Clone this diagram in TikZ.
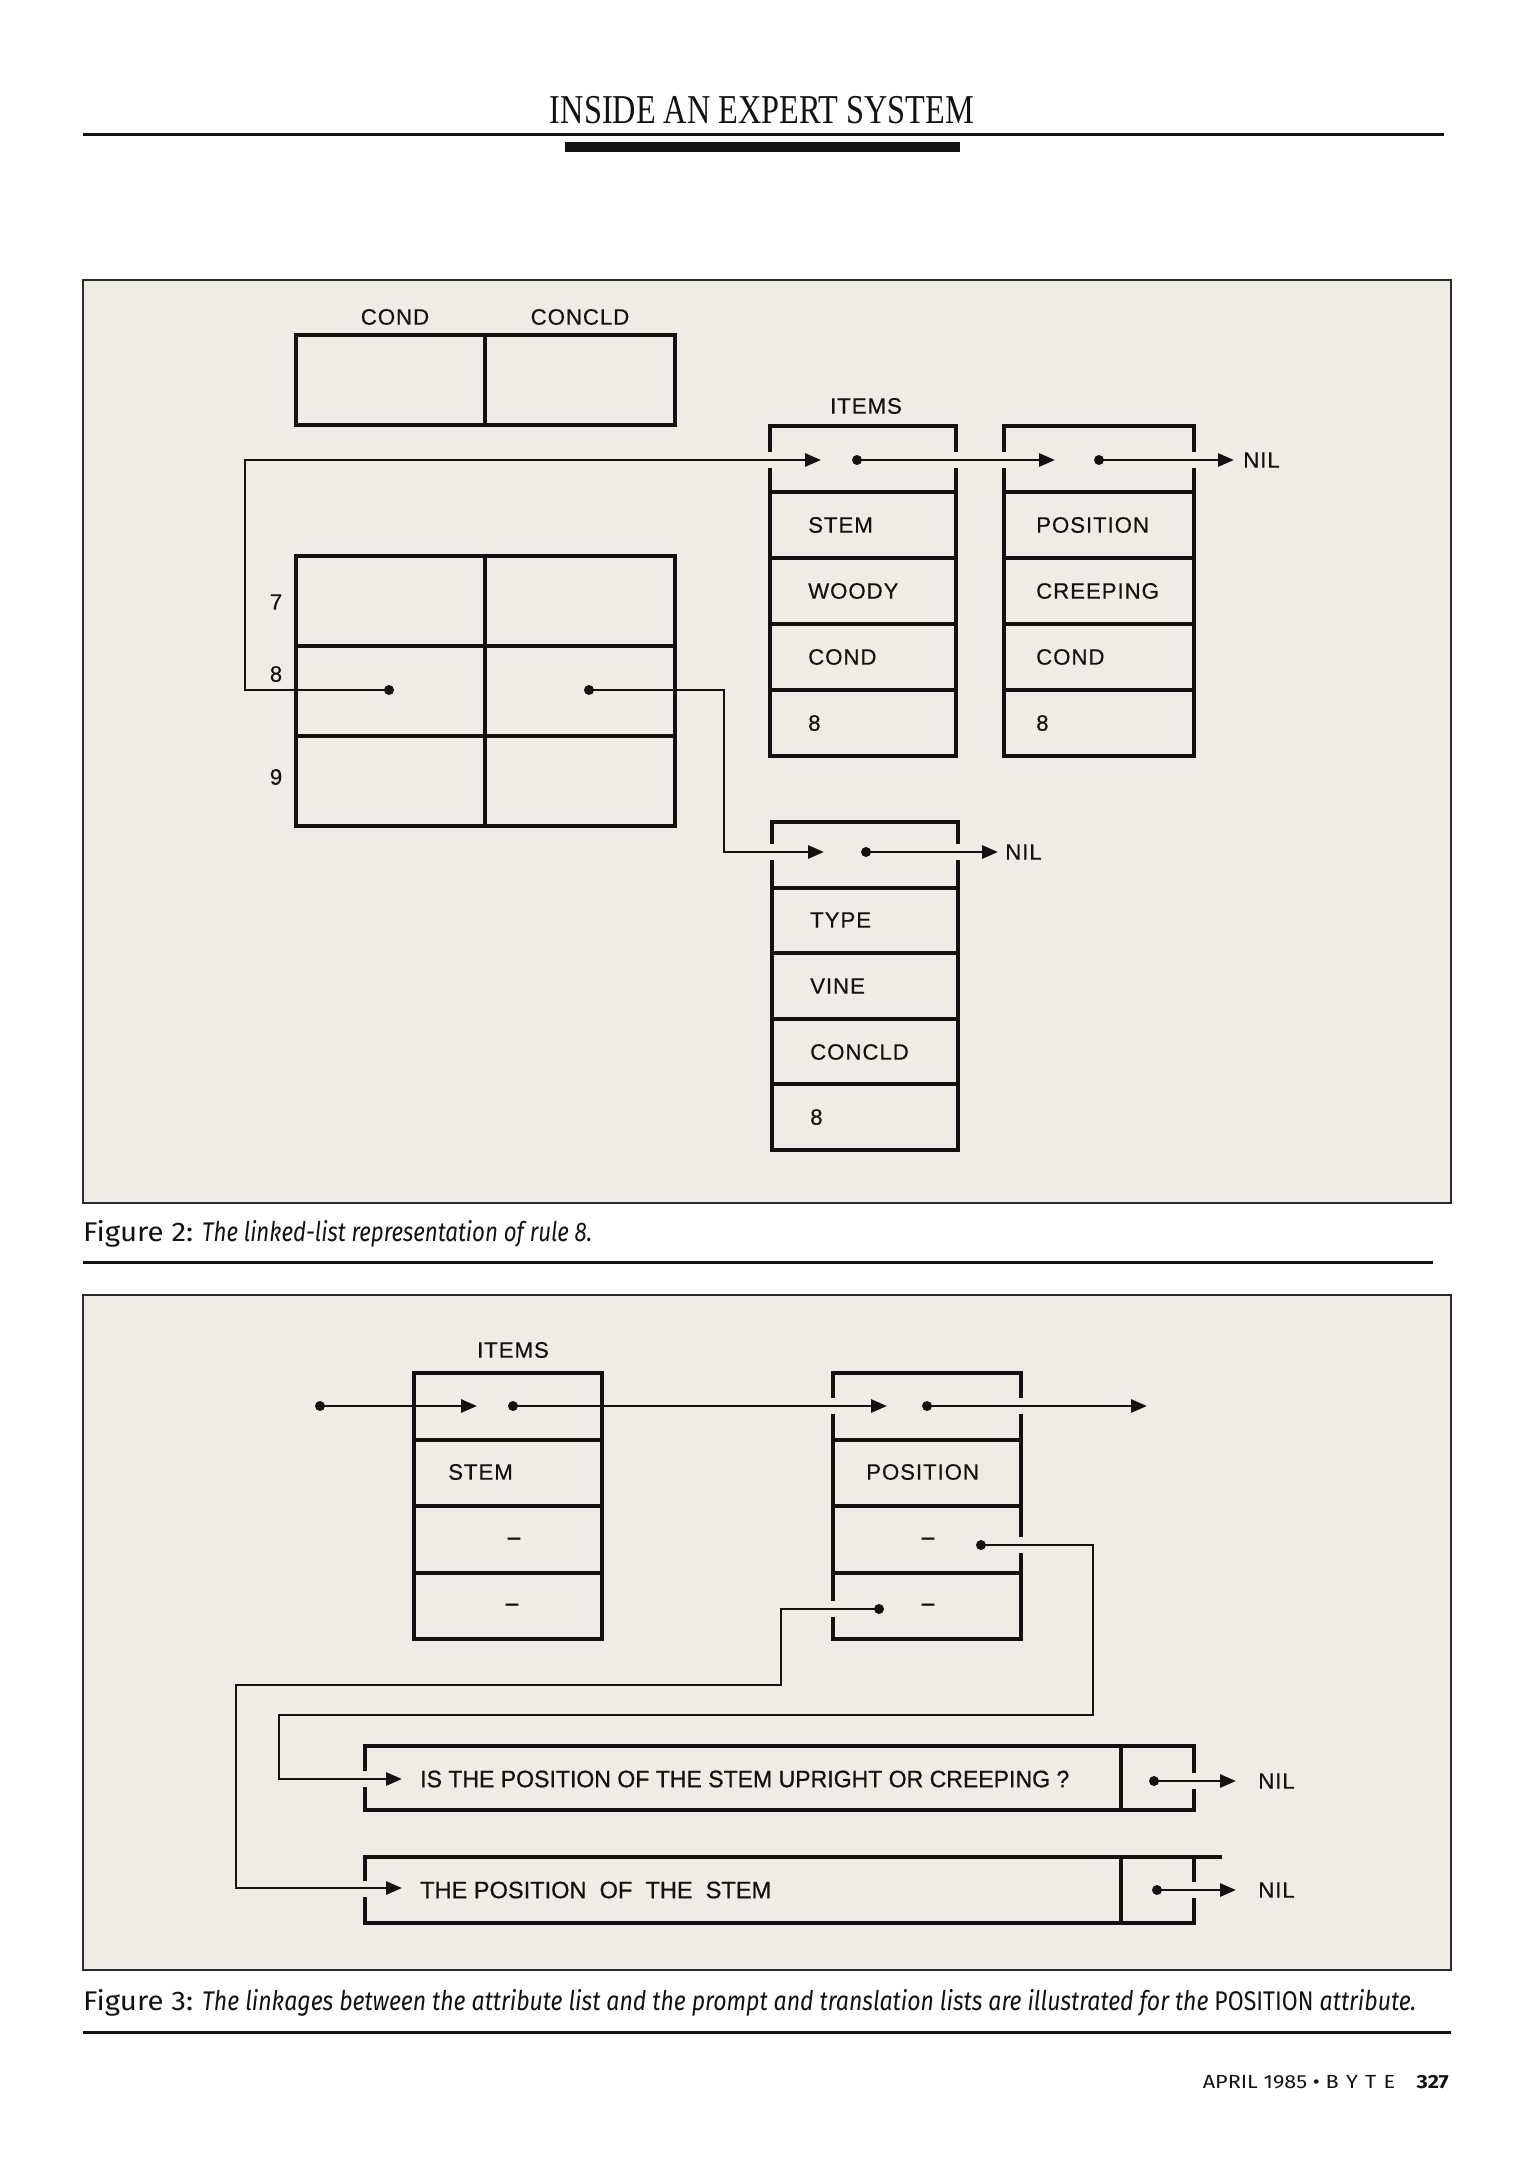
\documentclass[tikz,border=0pt]{standalone}
\usepackage{fontspec}
\usepackage{graphicx}
\setmainfont{Liberation Sans}
\newfontfamily\hdrfont{Liberation Serif}
\newfontfamily\capfont{Fira Sans}
\newfontfamily\labfont{Liberation Sans}[LetterSpace=4,FakeBold=0.4]
\newfontfamily\dashfont{Liberation Sans}[FakeBold=2.5]
\newfontfamily\prmfont{Liberation Sans}[FakeBold=0.8]
\usetikzlibrary{arrows.meta}
\newcommand\fitw[2]{\resizebox{#1}{\height}{#2}}
\definecolor{paper}{HTML}{EFECE5}
\definecolor{ink}{HTML}{121212}
\definecolor{frameink}{HTML}{2A2A2A}
\begin{document}
\begin{tikzpicture}[x=1pt,y=-1pt,
  boxline/.style={line width=3.4pt, draw=ink, line cap=rect},
  link/.style={line width=2.9pt, draw=ink},
  arr/.style={link, -{Triangle[length=16pt,width=13pt]}},
  lab/.style={font=\labfont\fontsize{22.3}{26}\selectfont, text=ink, inner sep=0pt},
  labw/.style={lab, anchor=west},
  dsh/.style={font=\dashfont\fontsize{22}{26}\selectfont, text=ink, inner sep=0pt},
  hdr/.style={font=\hdrfont\fontsize{41}{44}\selectfont, text=ink, inner sep=0pt},
  capt/.style={font=\capfont\fontsize{27}{30}\selectfont, text=ink, inner sep=0pt},
  prm/.style={font=\prmfont\fontsize{23.7}{27}\selectfont, text=ink, inner sep=0pt, anchor=west},
  frame/.style={fill=paper, draw=frameink, line width=1.8pt},
  rule/.style={line width=3pt, draw=ink},
  dotr/.style={fill=ink}
]
\useasboundingbox (0,0) rectangle (1525,2160);
\fill[white] (0,0) rectangle (1525,2160);

% ---------- header ----------
\node[hdr] (title) at (762,110) {\fitw{424pt}{INSIDE AN EXPERT SYSTEM}};
\draw[rule] (83,134) -- (1444,134);
\fill[ink] (565,142) rectangle (960,152);

% ---------- figure 2 ----------
\draw[frame] (83,280) rectangle (1451,1203);

% header box COND / CONCLD
\node[lab] (lcond) at (395,317) {COND};
\node[lab] (lconcld) at (580,317) {CONCLD};
\draw[boxline] (296,335) rectangle (675,425);
\draw[boxline] (485,335) -- (485,425);

% rule table
\draw[boxline] (296,556) rectangle (675,826);
\draw[boxline] (485,556) -- (485,826);
\draw[boxline] (296,646) -- (675,646);
\draw[boxline] (296,736) -- (675,736);
\node[lab] (r7) at (276,602) {7};
\node[lab] (r8) at (276,674) {8};
\node[lab] (r9) at (276,777) {9};
\coordinate (d8a) at (389,690);
\coordinate (d8b) at (589,690);
\fill[dotr] (d8a) circle (5pt);
\fill[dotr] (d8b) circle (5pt);

% ITEMS list box
\node[lab] (items1) at (866,406) {ITEMS};
\draw[boxline] (770,426) -- (956,426);
\foreach \yy in {492,558,624,690,756} \draw[boxline] (770,\yy) -- (956,\yy);
\draw[boxline] (770,426) -- (770,450) (770,470) -- (770,756);
\draw[boxline] (956,426) -- (956,450) (956,470) -- (956,756);
\node[labw] (s1) at (808,525) {STEM};
\node[labw] (s2) at (808,591) {WOODY};
\node[labw] (s3) at (808,657) {COND};
\node[labw] (s4) at (808,723) {8};

% POSITION list box
\draw[boxline] (1004,426) -- (1194,426);
\foreach \yy in {492,558,624,690,756} \draw[boxline] (1004,\yy) -- (1194,\yy);
\draw[boxline] (1004,426) -- (1004,450) (1004,470) -- (1004,756);
\draw[boxline] (1194,426) -- (1194,450) (1194,470) -- (1194,756);
\node[labw] (p1) at (1036,525) {POSITION};
\node[labw] (p2) at (1036,591) {CREEPING};
\node[labw] (p3) at (1036,657) {COND};
\node[labw] (p4) at (1036,723) {8};

% TYPE list box
\draw[boxline] (772,822) -- (958,822);
\foreach \yy in {888,953,1019,1084,1150} \draw[boxline] (772,\yy) -- (958,\yy);
\draw[boxline] (772,822) -- (772,842) (772,862) -- (772,1150);
\draw[boxline] (958,822) -- (958,842) (958,862) -- (958,1150);
\node[labw] (t1) at (810,920) {TYPE};
\node[labw] (t2) at (810,986) {VINE};
\node[labw] (t3) at (810,1052) {CONCLD};
\node[labw] (t4) at (810,1117) {8};

% pointers of figure 2
\coordinate (i1tip) at (821,460);
\coordinate (i1dot) at (857,460);
\coordinate (p1tip) at (1055,460);
\coordinate (p1dot) at (1099,460);
\coordinate (t1tip) at (824,852);
\coordinate (t1dot) at (866,852);
\coordinate (k1) at (245,690);
\coordinate (k2) at (724,760);
\node[lab, anchor=west] (nil1) at (1243,460) {NIL};
\node[lab, anchor=west] (nil2) at (1005,852) {NIL};
\fill[dotr] (i1dot) circle (5pt);
\fill[dotr] (p1dot) circle (5pt);
\fill[dotr] (t1dot) circle (5pt);
\draw[arr] (d8a) -- (k1) |- (i1tip);
\draw[arr] (d8b) -| (k2) |- (t1tip);
\draw[arr] (i1dot) -- (p1tip);
\draw[arr] (p1dot) -- ([xshift=-9pt]nil1.west);
\draw[arr] (t1dot) -- ([xshift=-7pt]nil2.west);

% caption 2
\node[capt, anchor=base west] (cap2) at (83,1241)
  {\fitw{110pt}{Figure 2:}\hspace{9pt}\fitw{390pt}{\itshape The linked-list representation of rule 8.}};
\draw[rule] (83,1262) -- (1433,1262);

% ---------- figure 3 ----------
\draw[frame] (83,1295) rectangle (1451,1970);

\node[lab] (items2) at (513,1350) {ITEMS};
% left attribute box
\draw[boxline] (414,1373) rectangle (602,1639);
\foreach \yy in {1440,1506,1573} \draw[boxline] (414,\yy) -- (602,\yy);
\node[labw] (a1) at (448,1472) {STEM};
\node[dsh] (a2) at (514,1541) {–};
\node[dsh] (a3) at (512,1607) {–};

% POSITION attribute box
\draw[boxline] (833,1373) -- (1021,1373);
\foreach \yy in {1440,1506,1573,1639} \draw[boxline] (833,\yy) -- (1021,\yy);
\draw[boxline] (833,1373) -- (833,1396) (833,1416) -- (833,1599) (833,1619) -- (833,1639);
\draw[boxline] (1021,1373) -- (1021,1396) (1021,1416) -- (1021,1535) (1021,1555) -- (1021,1639);
\node[labw] (b1) at (866,1472) {POSITION};
\node[dsh] (b2) at (928,1541) {–};
\node[dsh] (b3) at (928,1607) {–};

% prompt list
\draw[boxline] (365,1746) -- (1194,1746) (365,1810) -- (1194,1810);
\draw[boxline] (1121,1746) -- (1121,1810);
\draw[boxline] (365,1746) -- (365,1769) (365,1789) -- (365,1810);
\draw[boxline] (1194,1746) -- (1194,1771) (1194,1791) -- (1194,1810);
\node[prm] (ptext) at (420,1779)
  {\fitw{649pt}{IS THE POSITION OF THE STEM UPRIGHT OR CREEPING ?}};

% translation list
\draw[boxline] (365,1857) -- (1220,1857) (365,1923) -- (1194,1923);
\draw[boxline] (1121,1857) -- (1121,1923);
\draw[boxline] (365,1857) -- (365,1879) (365,1899) -- (365,1923);
\draw[boxline] (1194,1857) -- (1194,1880) (1194,1900) -- (1194,1923);
\node[prm] (ttext) at (420,1890)
  {\fitw{351pt}{THE POSITION \ OF \ THE \ STEM}};

% pointers of figure 3
\coordinate (start) at (320,1406);
\coordinate (a1tip) at (477,1406);
\coordinate (a1dot) at (513,1406);
\coordinate (b1tip) at (887,1406);
\coordinate (b1dot) at (927,1406);
\coordinate (outtip) at (1147,1406);
\coordinate (b2dot) at (981,1545);
\coordinate (b3dot) at (879,1609);
\coordinate (m1) at (1093,1630);
\coordinate (m2) at (279,1750);
\coordinate (n1) at (781,1650);
\coordinate (n2) at (236,1800);
\coordinate (ptip) at (402,1779);
\coordinate (ttip) at (402,1888);
\coordinate (pdot) at (1154,1781);
\coordinate (tdot) at (1157,1890);
\node[lab, anchor=west] (nil3) at (1258,1781) {NIL};
\node[lab, anchor=west] (nil4) at (1258,1890) {NIL};
\fill[dotr] (start) circle (5pt);
\fill[dotr] (a1dot) circle (5pt);
\fill[dotr] (b1dot) circle (5pt);
\fill[dotr] (b2dot) circle (5pt);
\fill[dotr] (b3dot) circle (5pt);
\fill[dotr] (pdot) circle (5pt);
\fill[dotr] (tdot) circle (5pt);
\draw[arr] (start) -- (a1tip);
\draw[arr] (a1dot) -- (b1tip);
\draw[arr] (b1dot) -- (outtip);
\draw[arr] (b2dot) -| (m1) |- (279,1715) -- (m2) |- (ptip);
\draw[arr] (b3dot) -| (n1) |- (236,1685) -- (n2) |- (ttip);
\draw[arr] (pdot) -- ([xshift=-22pt]nil3.west);
\draw[arr] (tdot) -- ([xshift=-22pt]nil4.west);

% caption 3
\node[capt, anchor=base west] (cap3) at (83,2010)
  {\fitw{110pt}{Figure 3:}\hspace{9pt}\fitw{1214pt}{\itshape The linkages between the attribute list and the prompt and translation lists are illustrated for the \upshape POSITION \itshape attribute.}};
\draw[rule] (83,2032) -- (1451,2032);

% footer
\node[font=\capfont\fontsize{19}{22}\selectfont, text=ink, inner sep=0pt, anchor=base east] (foot) at (1449,2088)
  {\fitw{246pt}{APRIL 1985 \textbullet\ B\,\,Y\,\,T\,\,E\quad\textbf{327}}};
\end{tikzpicture}
\end{document}
